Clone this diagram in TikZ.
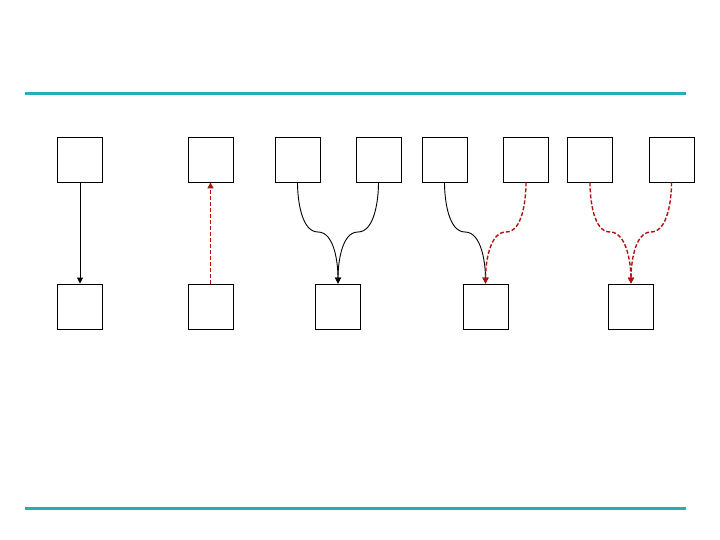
\documentclass[tikz,border=0pt]{standalone}
\usetikzlibrary{arrows.meta}
\definecolor{tealline}{RGB}{42,172,184}
\definecolor{darkred}{RGB}{176,16,16}
\begin{document}
\begin{tikzpicture}[x=1pt,y=-1pt,
  box/.style={draw=black,line width=0.9pt,minimum width=45pt,minimum height=45pt,inner sep=0pt,fill=white},
  rule/.style={draw=tealline,line width=3pt},
  solidarrow/.style={draw=black,line width=0.9pt,-{Triangle[length=6pt,width=6pt]}},
  redarrow/.style={draw=darkred,line width=1.4pt,dash pattern=on 4pt off 2pt,-{Triangle[length=6pt,width=6pt]}},
  curve/.style={looseness=0.8}]
\useasboundingbox (0,0) rectangle (720,540);
\coordinate (l1) at (25,94); \coordinate (r1) at (686,94);
\coordinate (l2) at (25,508); \coordinate (r2) at (686,508);
\draw[rule] (l1) -- (r1);
\draw[rule] (l2) -- (r2);
% top row
\node[box] (t1) at (80,159.5) {};
\node[box] (t2) at (210.5,159.5) {};
\node[box] (t3) at (297.5,159.5) {};
\node[box] (t4) at (378.5,159.5) {};
\node[box] (t5) at (444.5,159.5) {};
\node[box] (t6) at (526,159.5) {};
\node[box] (t7) at (590,159.5) {};
\node[box] (t8) at (671.5,159.5) {};
% bottom row
\node[box] (b1) at (80,306.5) {};
\node[box] (b2) at (210.5,306.5) {};
\node[box] (b3) at (338,306.5) {};
\node[box] (b4) at (485.5,306.5) {};
\node[box] (b5) at (631,306.5) {};
% mid points
\coordinate (m3) at (318,232);
\coordinate (m4) at (358,232);
\coordinate (m5) at (465,232);
\coordinate (m6) at (506,232);
\coordinate (m7) at (610,232);
\coordinate (m8) at (651,232);
% connectors
\draw[solidarrow] (t1.south) -- (b1.north);
\draw[redarrow] (b2.north) -- (t2.south);
\draw[solidarrow,curve] (t3.south) to[out=-90,in=180] (m3) to[out=0,in=90] (b3.north);
\draw[solidarrow,curve] (t4.south) to[out=-90,in=0] (m4) to[out=180,in=90] (b3.north);
\draw[solidarrow,curve] (t5.south) to[out=-90,in=180] (m5) to[out=0,in=90] (b4.north);
\draw[redarrow,curve] (t6.south) to[out=-90,in=0] (m6) to[out=180,in=90] (b4.north);
\draw[redarrow,curve] (t7.south) to[out=-90,in=180] (m7) to[out=0,in=90] (b5.north);
\draw[redarrow,curve] (t8.south) to[out=-90,in=0] (m8) to[out=180,in=90] (b5.north);
\end{tikzpicture}
\end{document}
